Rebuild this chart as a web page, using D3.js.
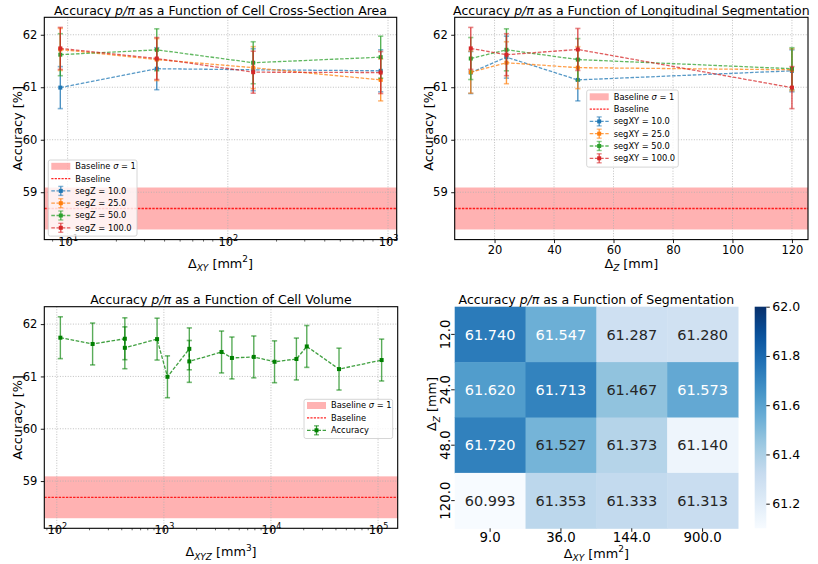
<!DOCTYPE html>
<html><head><meta charset="utf-8">
<script src="https://cdn.jsdelivr.net/npm/d3@7"></script>
<style>
body{margin:0;background:#fff}
svg{font-family:"DejaVu Sans",sans-serif}
</style>
</head><body>
<svg id="c" width="818" height="564"></svg>
<script>
// ---------------- DATA ----------------
const dxyValues = [9, 36, 144, 900];            // Δ_XY [mm²]
const dzValues = [12, 24, 48, 120];             // Δ_Z [mm]
const dxyLabels = ["9.0", "36.0", "144.0", "900.0"];
const dzLabels = ["12.0", "24.0", "48.0", "120.0"];
// accuracy [%] by Δ_Z row, across Δ_XY columns
const accDz12 = [61.740, 61.547, 61.287, 61.280];
const accDz24 = [61.620, 61.713, 61.467, 61.573];
const accDz48 = [61.720, 61.527, 61.373, 61.140];
const accDz120 = [60.993, 61.353, 61.333, 61.313];
const accuracyError = 0.4;
const baseline = 58.69;
const baselineSigma = 0.4;

const segZLabels = ["segZ = 10.0", "segZ = 25.0", "segZ = 50.0", "segZ = 100.0"];
const segXYLabels = ["segXY = 10.0", "segXY = 25.0", "segXY = 50.0", "segXY = 100.0"];
const seriesColors = ["#1f77b4", "#ff7f0e", "#2ca02c", "#d62728"];

const cellVolume = [108, 216, 432, 432, 864, 1080, 1728, 1728, 3456, 4320, 6912, 10800, 17280, 21600, 43200, 108000];
const volumeAccuracy = [61.740, 61.620, 61.720, 61.547, 61.713, 60.993, 61.527, 61.287, 61.467, 61.353, 61.373, 61.280, 61.333, 61.573, 61.140, 61.313];

const yTicks = [59, 60, 61, 62];
const dzTicks = [20, 40, 60, 80, 100, 120];
const cbarTicks = [61.2, 61.4, 61.6, 61.8, 62.0];
const cbarDomain = [61.1, 62.0];

// ------------- derived tables -------------
const accRowsByDz = [accDz12, accDz24, accDz48, accDz120];
// segZ = 10,25,50,100 correspond to Δ_Z = 120,48,24,12
const segZRows = [accDz120, accDz48, accDz24, accDz12];
// segXY = 10,25,50,100 correspond to Δ_XY columns 900,144,36,9
const segXYCols = [3, 2, 1, 0];

const svg = d3.select("#c");
const TICK_FS = 11.5, LABEL_FS = 12.8, TITLE_FS = 12.5, LEG_FS = 8.3;

function rich(textSel, parts, size) {
  let shift = 0;
  parts.forEach(p => {
    const ts = textSel.append("tspan").text(p.t);
    let target = 0, fs = size;
    if (p.sub) { target = size * 0.28; fs = size * 0.7; }
    if (p.sup) { target = -size * 0.42; fs = size * 0.7; }
    ts.attr("dy", target - shift).attr("font-size", fs);
    if (p.it) ts.attr("font-style", "italic");
    shift = target;
  });
}
const titleParts = rest => [{t: "Accuracy "}, {t: "p/π", it: true}, {t: " as a Function of " + rest}];

function yDomain(vals) {
  const lo = baseline - baselineSigma, hi = d3.max(vals) + accuracyError;
  const pad = (hi - lo) * 0.05;
  return [lo - pad, hi + pad];
}
function logDomain(vals) {
  const a = Math.log10(d3.min(vals)), b = Math.log10(d3.max(vals));
  const pad = (b - a) * 0.05;
  return [Math.pow(10, a - pad), Math.pow(10, b + pad)];
}
function linDomain(vals) {
  const a = d3.min(vals), b = d3.max(vals), pad = (b - a) * 0.05;
  return [a - pad, b + pad];
}

function drawPanel(cfg) {
  const {L, R, T, B, x, y, logX, xTicks, title, xlabel} = cfg;
  const g = svg.append("g");
  // baseline band
  g.append("rect").attr("x", L).attr("width", R - L)
    .attr("y", y(baseline + baselineSigma)).attr("height", y(baseline - baselineSigma) - y(baseline + baselineSigma))
    .attr("fill", "#ff0000").attr("fill-opacity", 0.3);
  // grid
  const grid = g.append("g").attr("stroke", "#b0b0b0").attr("stroke-width", 0.8).attr("stroke-dasharray", "1,1.6");
  yTicks.forEach(v => grid.append("line").attr("x1", L).attr("x2", R).attr("y1", y(v)).attr("y2", y(v)));
  xTicks.forEach(v => grid.append("line").attr("y1", T).attr("y2", B).attr("x1", x(v)).attr("x2", x(v)));
  // baseline line
  g.append("line").attr("x1", L).attr("x2", R).attr("y1", y(baseline)).attr("y2", y(baseline))
    .attr("stroke", "#ff0000").attr("stroke-width", 1.3).attr("stroke-dasharray", "2.4,1.2").attr("stroke-opacity", 0.85);
  // axes
  const yAx = g.append("g").attr("transform", `translate(${L},0)`)
    .call(d3.axisLeft(y).tickValues(yTicks).tickFormat(d3.format("d")).tickSize(3.5).tickPadding(3.5));
  const xAx = g.append("g").attr("transform", `translate(0,${B})`)
    .call(d3.axisBottom(x).tickValues(xTicks).tickFormat(logX ? () => "" : d3.format("d")).tickSize(3.5).tickPadding(2.5));
  if (logX) {
    const [d0, d1] = x.domain();
    const minors = [];
    for (let e = Math.floor(Math.log10(d0)); e <= Math.ceil(Math.log10(d1)); e++)
      for (let m = 2; m <= 9; m++) { const v = m * Math.pow(10, e); if (v > d0 && v < d1) minors.push(v); }
    g.append("g").attr("transform", `translate(0,${B})`)
      .call(d3.axisBottom(x).tickValues(minors).tickFormat(() => "").tickSize(2))
      .call(s => s.select(".domain").remove())
      .selectAll("line").attr("stroke-width", 0.6);
    xAx.selectAll(".tick text").each(function(d) {
      const t = d3.select(this);
      t.text(null);
      rich(t, [{t: "10"}, {t: String(Math.round(Math.log10(d))), sup: true}], TICK_FS);
    });
  }
  [yAx, xAx].forEach(a => {
    a.select(".domain").remove();
    a.selectAll("text").attr("font-size", TICK_FS).attr("font-family", "DejaVu Sans").attr("fill", "#000");
    a.selectAll("line").attr("stroke", "#000").attr("stroke-width", 0.9);
  });
  // frame
  g.append("rect").attr("x", L).attr("y", T).attr("width", R - L).attr("height", B - T)
    .attr("fill", "none").attr("stroke", "#000").attr("stroke-width", 1.1);
  // title
  const tt = g.append("text").attr("x", (L + R) / 2).attr("y", T - 2.5).attr("text-anchor", "middle").attr("font-size", TITLE_FS);
  rich(tt, titleParts(title), TITLE_FS);
  // xlabel
  const xl = g.append("text").attr("x", (L + R) / 2).attr("y", B + 28).attr("text-anchor", "middle").attr("font-size", LABEL_FS);
  rich(xl, xlabel, LABEL_FS);
  // ylabel
  g.append("text").attr("transform", `translate(${L - 22},${(T + B) / 2}) rotate(-90)`)
    .attr("text-anchor", "middle").attr("font-size", LABEL_FS).text("Accuracy [%]");
  return g;
}

function drawSeries(g, x, y, xs, vals, color, opts = {}) {
  const lineOp = opts.lineOp ?? 0.75;
  const s = g.append("g");
  const pts = xs.map((xv, i) => ({x: xv, v: vals[i]}));
  s.append("path").datum(pts)
    .attr("d", d3.line().x(d => x(d.x)).y(d => y(d.v)))
    .attr("fill", "none").attr("stroke", color).attr("stroke-width", 1.3)
    .attr("stroke-dasharray", "3.6,1.6").attr("stroke-opacity", lineOp);
  pts.forEach(p => {
    const cx = x(p.x), y1 = y(p.v + accuracyError), y2 = y(p.v - accuracyError);
    s.append("line").attr("x1", cx).attr("x2", cx).attr("y1", y1).attr("y2", y2)
      .attr("stroke", color).attr("stroke-width", 1.4).attr("stroke-opacity", opts.barOp ?? 0.8);
    [y1, y2].forEach(yy => s.append("line").attr("x1", cx - 2.6).attr("x2", cx + 2.6).attr("y1", yy).attr("y2", yy)
      .attr("stroke", color).attr("stroke-width", 1.6).attr("stroke-opacity", 0.55));
    s.append("rect").attr("x", cx - 2).attr("y", y(p.v) - 2).attr("width", 4).attr("height", 4).attr("fill", color);
  });
}

function drawLegend(L, T, W, rowY0, dy, entries) {
  const g = svg.append("g");
  g.append("rect").attr("x", L).attr("y", T).attr("width", W).attr("height", dy * entries.length + 2 * (rowY0 - T) - dy + 2)
    .attr("rx", 2).attr("fill", "#fff").attr("fill-opacity", 0.8).attr("stroke", "#cccccc").attr("stroke-width", 0.8);
  const hx0 = L + 3, hx1 = L + 22, tx = L + 27;
  entries.forEach((e, i) => {
    const cy = rowY0 + i * dy;
    if (e.type === "patch") {
      g.append("rect").attr("x", hx0).attr("y", cy - 3.5).attr("width", hx1 - hx0).attr("height", 7)
        .attr("fill", "#ff0000").attr("fill-opacity", 0.3);
    } else if (e.type === "base") {
      g.append("line").attr("x1", hx0).attr("x2", hx1).attr("y1", cy).attr("y2", cy)
        .attr("stroke", "#ff0000").attr("stroke-width", 1.2).attr("stroke-dasharray", "2.2,1.2").attr("stroke-opacity", 0.85);
    } else {
      const mx = (hx0 + hx1) / 2;
      g.append("line").attr("x1", hx0).attr("x2", hx1).attr("y1", cy).attr("y2", cy)
        .attr("stroke", e.color).attr("stroke-width", 1.3).attr("stroke-dasharray", "3.6,1.6").attr("stroke-opacity", 0.75);
      g.append("line").attr("x1", mx).attr("x2", mx).attr("y1", cy - 4.5).attr("y2", cy + 4.5)
        .attr("stroke", e.color).attr("stroke-width", 1.3).attr("stroke-opacity", 0.8);
      [cy - 4.5, cy + 4.5].forEach(yy => g.append("line").attr("x1", mx - 2.5).attr("x2", mx + 2.5).attr("y1", yy).attr("y2", yy)
        .attr("stroke", e.color).attr("stroke-width", 1.4).attr("stroke-opacity", 0.55));
      g.append("rect").attr("x", mx - 2).attr("y", cy - 2).attr("width", 4).attr("height", 4).attr("fill", e.color);
    }
    const t = g.append("text").attr("x", tx).attr("y", cy + LEG_FS * 0.36).attr("font-size", LEG_FS);
    if (e.type === "patch") rich(t, [{t: "Baseline "}, {t: "σ", it: true}, {t: " = 1"}], LEG_FS);
    else t.text(e.label);
  });
}

// ---------------- Panel A: cross-section ----------------
{
  const L = 44.3, R = 396.7, T = 17.3, B = 239.6;
  const allVals = [].concat(...accRowsByDz);
  const x = d3.scaleLog().domain(logDomain(dxyValues)).range([L, R]);
  const y = d3.scaleLinear().domain(yDomain(allVals)).range([B, T]);
  const g = drawPanel({L, R, T, B, x, y, logX: true, xTicks: [10, 100, 1000],
    title: "Cell Cross-Section Area",
    xlabel: [{t: "Δ"}, {t: "XY", sub: true, it: true}, {t: " [mm"}, {t: "2", sup: true}, {t: "]"}]});
  segZRows.forEach((row, i) => drawSeries(g, x, y, dxyValues, row, seriesColors[i]));
  drawLegend(48.3, 160, 88.7, 166.3, 12.3, [
    {type: "patch"}, {type: "base", label: "Baseline"},
    ...segZLabels.map((l, i) => ({type: "err", label: l, color: seriesColors[i]}))]);
}

// ---------------- Panel B: longitudinal ----------------
{
  const L = 454.7, R = 808, T = 17.3, B = 239.6;
  const allVals = [].concat(...accRowsByDz);
  const x = d3.scaleLinear().domain(linDomain(dzValues)).range([L, R]);
  const y = d3.scaleLinear().domain(yDomain(allVals)).range([B, T]);
  const g = drawPanel({L, R, T, B, x, y, logX: false, xTicks: dzTicks,
    title: "Longitudinal Segmentation",
    xlabel: [{t: "Δ"}, {t: "Z", sub: true, it: true}, {t: " [mm]"}]});
  segXYCols.forEach((c, i) => drawSeries(g, x, y, dzValues, accRowsByDz.map(r => r[c]), seriesColors[i]));
  drawLegend(586.7, 90, 91.6, 96.8, 12.3, [
    {type: "patch"}, {type: "base", label: "Baseline"},
    ...segXYLabels.map((l, i) => ({type: "err", label: l, color: seriesColors[i]}))]);
}

// ---------------- Panel C: volume ----------------
{
  const L = 44.3, R = 397.7, T = 306.7, B = 528.3;
  const x = d3.scaleLog().domain(logDomain(cellVolume)).range([L, R]);
  const y = d3.scaleLinear().domain(yDomain(volumeAccuracy)).range([B, T]);
  const g = drawPanel({L, R, T, B, x, y, logX: true, xTicks: [100, 1000, 10000, 100000],
    title: "Cell Volume",
    xlabel: [{t: "Δ"}, {t: "XYZ", sub: true, it: true}, {t: " [mm"}, {t: "3", sup: true}, {t: "]"}]});
  drawSeries(g, x, y, cellVolume, volumeAccuracy, "#008000", {barOp: 0.65});
  drawLegend(304, 399.3, 88.7, 405.5, 12.4, [
    {type: "patch"}, {type: "base", label: "Baseline"},
    {type: "err", label: "Accuracy", color: "#008000"}]);
}

// ---------------- Panel D: heatmap ----------------
{
  const L = 454.7, R = 738, T = 306.7, B = 528.3;
  const g = svg.append("g");
  const xb = d3.scaleBand().domain(dxyLabels).range([L, R]);
  const yb = d3.scaleBand().domain(dzLabels).range([T, B]);
  const blues = d3.piecewise(d3.interpolateRgb, d3.schemeBlues[9]);
  const color = d3.scaleSequential(blues).domain(cbarDomain).clamp(true);
  const lin = c => { c /= 255; return c <= 0.03928 ? c / 12.92 : Math.pow((c + 0.055) / 1.055, 2.4); };
  const lum = col => { const c = d3.rgb(col); return 0.2126 * lin(c.r) + 0.7152 * lin(c.g) + 0.0722 * lin(c.b); };
  accRowsByDz.forEach((row, ri) => row.forEach((v, ci) => {
    const fc = color(v);
    g.append("rect").attr("x", xb(dxyLabels[ci])).attr("y", yb(dzLabels[ri]))
      .attr("width", xb.bandwidth() + 0.5).attr("height", yb.bandwidth() + 0.5).attr("fill", fc);
    g.append("text").attr("x", xb(dxyLabels[ci]) + xb.bandwidth() / 2).attr("y", yb(dzLabels[ri]) + yb.bandwidth() / 2)
      .attr("dy", "0.36em").attr("text-anchor", "middle").attr("font-size", 14.5)
      .attr("fill", lum(fc) > 0.408 ? "#262626" : "#ffffff").text(d3.format(".3f")(v));
  }));
  const xa = g.append("g").attr("transform", `translate(0,${B})`).call(d3.axisBottom(xb).tickSize(3.5).tickPadding(0.5));
  const ya = g.append("g").attr("transform", `translate(${L},0)`).call(d3.axisLeft(yb).tickSize(3.5).tickPadding(3));
  ya.selectAll(".tick text").attr("text-anchor", "middle").attr("x", 0).attr("y", 0)
    .attr("dy", 0).attr("dx", 0)
    .attr("transform", "translate(-5,0) rotate(-90)");
  [xa, ya].forEach(a => {
    a.select(".domain").remove();
    a.selectAll("text").attr("font-size", 13.3).attr("font-family", "DejaVu Sans").attr("fill", "#000");
    a.selectAll("line").attr("stroke", "#000").attr("stroke-width", 0.9);
  });
  const tt = g.append("text").attr("x", (L + R) / 2).attr("y", T - 2.5).attr("text-anchor", "middle").attr("font-size", TITLE_FS);
  rich(tt, titleParts("Segmentation"), TITLE_FS);
  const xl = g.append("text").attr("x", (L + R) / 2).attr("y", 557.5).attr("text-anchor", "middle").attr("font-size", LABEL_FS);
  rich(xl, [{t: "Δ"}, {t: "XY", sub: true, it: true}, {t: " [mm"}, {t: "2", sup: true}, {t: "]"}], LABEL_FS);
  const yl = g.append("text").attr("transform", `translate(${436},${404}) rotate(-90)`).attr("text-anchor", "middle").attr("font-size", LABEL_FS);
  rich(yl, [{t: "Δ"}, {t: "Z", sub: true, it: true}, {t: " [mm]"}], LABEL_FS);

  // colorbar
  const cbL = 754.7, cbW = 11.6;
  const cy = d3.scaleLinear().domain(cbarDomain).range([B, T]);
  const defs = svg.append("defs");
  const grad = defs.append("linearGradient").attr("id", "cbg").attr("x1", 0).attr("x2", 0).attr("y1", 1).attr("y2", 0);
  d3.range(0, 1.0001, 0.05).forEach(t => grad.append("stop").attr("offset", t)
    .attr("stop-color", color(cbarDomain[0] + t * (cbarDomain[1] - cbarDomain[0]))));
  g.append("rect").attr("x", cbL).attr("y", T).attr("width", cbW).attr("height", B - T).attr("fill", "url(#cbg)");
  const ca = g.append("g").attr("transform", `translate(${cbL + cbW},0)`)
    .call(d3.axisRight(cy).tickValues(cbarTicks).tickFormat(d3.format(".1f")).tickSize(3.5).tickPadding(2.5));
  ca.select(".domain").remove();
  ca.selectAll("text").attr("font-size", 12.5).attr("font-family", "DejaVu Sans").attr("fill", "#000");
  ca.selectAll("line").attr("stroke", "#000").attr("stroke-width", 0.9);
}
</script>
</body></html>
